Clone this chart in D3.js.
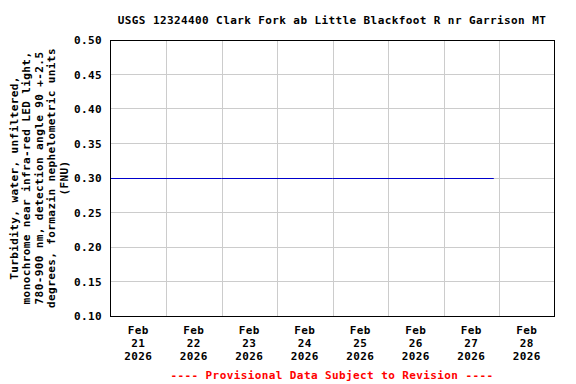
<!DOCTYPE html>
<html>
<head>
<meta charset="utf-8">
<script src="https://cdn.jsdelivr.net/npm/d3@7"></script>
<style>
  body { margin: 0; background: #fff; }
  svg text { font-family: "DejaVu Sans Mono", "Liberation Mono", monospace; font-weight: bold; }
</style>
</head>
<body>
<svg width="576" height="384"></svg>
<script>
// readings (time, FNU)
var times = ['2026-02-21T00:00', '2026-02-22T00:00', '2026-02-23T00:00', '2026-02-24T00:00',
             '2026-02-25T00:00', '2026-02-26T00:00', '2026-02-27T00:00', '2026-02-27T21:45'];
var values = [0.30, 0.30, 0.30, 0.30, 0.30, 0.30, 0.30, 0.30];
var dayTicks = ['2026-02-21', '2026-02-22', '2026-02-23', '2026-02-24',
                '2026-02-25', '2026-02-26', '2026-02-27', '2026-02-28', '2026-03-01'];
var yTicks = [0.10, 0.15, 0.20, 0.25, 0.30, 0.35, 0.40, 0.45, 0.50];
var titleText = 'USGS 12324400 Clark Fork ab Little Blackfoot R nr Garrison MT';
var yLabelLines = ['Turbidity, water, unfiltered,',
                   'monochrome near infra-red LED light,',
                   '780-900 nm, detection angle 90 +-2.5',
                   'degrees, formazin nephelometric units',
                   '(FNU)'];
var noteText = '---- Provisional Data Subject to Revision ----';

drawChart();

function drawChart() {
  var parseT = d3.timeParse('%Y-%m-%dT%H:%M');
  var parseD = d3.timeParse('%Y-%m-%d');
  var fmtMon = d3.timeFormat('%b'), fmtDay = d3.timeFormat('%d'), fmtYr = d3.timeFormat('%Y');

  var pLeft = 110.5, pRight = 554.5, pTop = 40, pBottom = 316;
  var ls = 0.4; // letter spacing, gives ~7px per char

  var svg = d3.select('svg');

  var x = d3.scaleTime()
    .domain([parseD(dayTicks[0]), parseD(dayTicks[dayTicks.length - 1])])
    .range([pLeft, pRight]);
  var y = d3.scaleLinear().domain([0.10, 0.50]).range([pBottom, pTop]);
  function yPix(v) { return Math.floor(y(v)) + 0.5; }

  // grid
  svg.append('g').selectAll('line')
    .data(dayTicks.slice(1, -1))
    .enter().append('line')
    .attr('x1', function (d) { return Math.round(x(parseD(d))) + 0.5; })
    .attr('x2', function (d) { return Math.round(x(parseD(d))) + 0.5; })
    .attr('y1', pTop).attr('y2', pBottom)
    .attr('stroke', '#cccccc').attr('stroke-width', 1);

  svg.append('g').selectAll('line')
    .data(yTicks.slice(1, -1))
    .enter().append('line')
    .attr('x1', pLeft).attr('x2', pRight)
    .attr('y1', yPix)
    .attr('y2', yPix)
    .attr('stroke', '#cccccc').attr('stroke-width', 1);

  // data line
  var pts = times.map(function (t, i) { return [parseT(t), values[i]]; });
  svg.append('path')
    .datum(pts)
    .attr('fill', 'none')
    .attr('stroke', '#0000cc')
    .attr('stroke-width', 1)
    .attr('d', d3.line()
      .x(function (d) { return x(d[0]); })
      .y(function (d) { return yPix(d[1]); }));

  // frame
  svg.append('rect')
    .attr('x', pLeft).attr('y', pTop + 0.5)
    .attr('width', pRight - pLeft).attr('height', pBottom - pTop)
    .attr('fill', 'none').attr('stroke', '#000').attr('stroke-width', 1);

  // y tick labels
  svg.append('g').selectAll('text')
    .data(yTicks)
    .enter().append('text')
    .attr('x', 102)
    .attr('y', function (d) { return y(d) + 4; })
    .attr('text-anchor', 'end')
    .attr('font-size', 11)
    .attr('letter-spacing', ls)
    .text(function (d) { return d.toFixed(2); });

  // x tick labels, centred at noon of each day
  var xl = svg.append('g').selectAll('g')
    .data(dayTicks.slice(0, -1))
    .enter().append('g')
    .attr('transform', function (d) {
      return 'translate(' + x(d3.timeHour.offset(parseD(d), 12)) + ',0)';
    });
  [[fmtMon, 334], [fmtDay, 347], [fmtYr, 360]].forEach(function (r) {
    xl.append('text')
      .attr('x', 0).attr('y', r[1])
      .attr('text-anchor', 'middle')
      .attr('font-size', 11)
      .attr('letter-spacing', ls)
      .text(function (d) { return r[0](parseD(d)); });
  });

  // title
  svg.append('text')
    .attr('x', 332).attr('y', 24)
    .attr('text-anchor', 'middle')
    .attr('font-size', 11)
    .attr('letter-spacing', ls)
    .text(titleText);

  // y axis label
  var yl = svg.append('text')
    .attr('transform', 'translate(0,' + ((pTop + pBottom) / 2) + ') rotate(-90)')
    .attr('text-anchor', 'middle')
    .attr('font-size', 11)
    .attr('letter-spacing', ls);
  yLabelLines.forEach(function (s, i) {
    yl.append('tspan').attr('x', 0).attr('y', 18 + i * 12.4).text(s);
  });

  // provisional note
  svg.append('text')
    .attr('x', 332).attr('y', 379)
    .attr('text-anchor', 'middle')
    .attr('font-size', 11)
    .attr('letter-spacing', ls)
    .attr('fill', '#ff0000')
    .text(noteText);
}
</script>
</body>
</html>
